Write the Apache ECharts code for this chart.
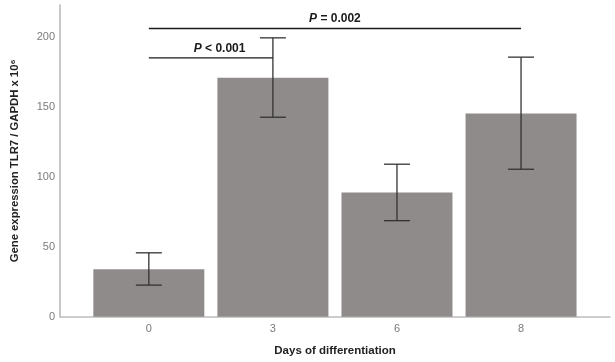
<!DOCTYPE html>
<html>
<head>
<meta charset="utf-8">
<script src="https://cdn.jsdelivr.net/npm/echarts@6/dist/echarts.min.js"></script>
<style>html,body{margin:0;padding:0;background:#fff}#c{width:615px;height:362px}</style>
</head>
<body>
<div id="c"></div>
<script>
const dayLabels = ['0', '3', '6', '8'];
const means = [34.0, 170.9, 88.8, 145.3];
const errLow = [22.6, 142.7, 68.7, 105.5];
const errHigh = [45.7, 199.5, 109.1, 185.7];
// significance brackets: [from index, to index, y value, label x, label]
const sigFrom = [0, 0];
const sigTo = [1, 3];
const sigY = [185.2, 206.2];
const sigLabelX = [0.57, 1.5];
const sigText = ['<', '='];
const sigP = ['0.001', '0.002'];

const barData = means.map((v, i) => [i, v]);
const errData = means.map((v, i) => [i, errLow[i], errHigh[i]]);
const sigData = sigY.map((y, i) => [sigFrom[i], sigTo[i], y, sigLabelX[i], i]);

const chart = echarts.init(document.getElementById('c'));
chart.setOption({
  animation: false,
  grid: { left: 60, right: 5, top: 5, bottom: 45.3 },
  xAxis: {
    type: 'value', min: -0.716, max: 3.717,
    splitLine: { show: false },
    axisTick: { show: false },
    axisLine: { show: true, onZero: false, lineStyle: { color: '#bdbdbd', width: 1.5 } },
    axisLabel: {
      customValues: [0, 1, 2, 3],
      formatter: v => dayLabels[Math.round(v)],
      color: '#7a7a7a', fontSize: 11, margin: 7, fontFamily: 'Liberation Sans'
    },
    name: 'Days of differentiation', nameLocation: 'middle', nameGap: 28,
    nameTextStyle: { color: '#222', fontWeight: 'bold', fontSize: 11.5, fontFamily: 'Liberation Sans' }
  },
  yAxis: {
    type: 'value', min: 0, max: 223, interval: 50,
    splitLine: { show: false },
    axisTick: { show: false },
    axisLine: { show: true, onZero: false, lineStyle: { color: '#b5b5b5', width: 1.5 } },
    axisLabel: { color: '#7a7a7a', fontSize: 11, margin: 5, showMaxLabel: false, fontFamily: 'Liberation Sans' },
    name: 'Gene expression TLR7 / GAPDH x 10⁶', nameLocation: 'middle', nameGap: 40,
    nameTextStyle: { color: '#222', fontWeight: 'bold', fontSize: 11.3, fontFamily: 'Liberation Sans' }
  },
  series: [
    {
      type: 'bar', data: barData, barWidth: 111,
      itemStyle: { color: '#8f8b8a' }, z: 1
    },
    {
      type: 'custom', data: errData, z: 3,
      renderItem: (params, api) => {
        const x = api.value(0);
        const lo = api.coord([x, api.value(1)]);
        const hi = api.coord([x, api.value(2)]);
        const hw = 13;
        const st = { stroke: '#333', lineWidth: 1.3 };
        return { type: 'group', children: [
          { type: 'line', shape: { x1: lo[0], y1: lo[1], x2: hi[0], y2: hi[1] }, style: st },
          { type: 'line', shape: { x1: lo[0] - hw, y1: lo[1], x2: lo[0] + hw, y2: lo[1] }, style: st },
          { type: 'line', shape: { x1: hi[0] - hw, y1: hi[1], x2: hi[0] + hw, y2: hi[1] }, style: st }
        ]};
      }
    },
    {
      type: 'custom', data: sigData, z: 4,
      renderItem: (params, api) => {
        const a = api.coord([api.value(0), api.value(2)]);
        const b = api.coord([api.value(1), api.value(2)]);
        const t = api.coord([api.value(3), api.value(2)]);
        const i = api.value(4);
        return { type: 'group', children: [
          { type: 'line', shape: { x1: a[0], y1: a[1], x2: b[0], y2: b[1] }, style: { stroke: '#1a1a1a', lineWidth: 1.4 } },
          { type: 'text', x: t[0], y: t[1] - 9.5, style: {
            text: '{i|P} ' + sigText[i] + ' ' + sigP[i],
            align: 'center', verticalAlign: 'middle',
            fill: '#1a1a1a', fontSize: 12, fontWeight: 'bold', fontFamily: 'Liberation Sans',
            rich: { i: { fontStyle: 'italic', fontWeight: 'bold', fontSize: 12, fontFamily: 'Liberation Sans', fill: '#1a1a1a' } }
          } }
        ]};
      }
    }
  ]
});
</script>
</body>
</html>
